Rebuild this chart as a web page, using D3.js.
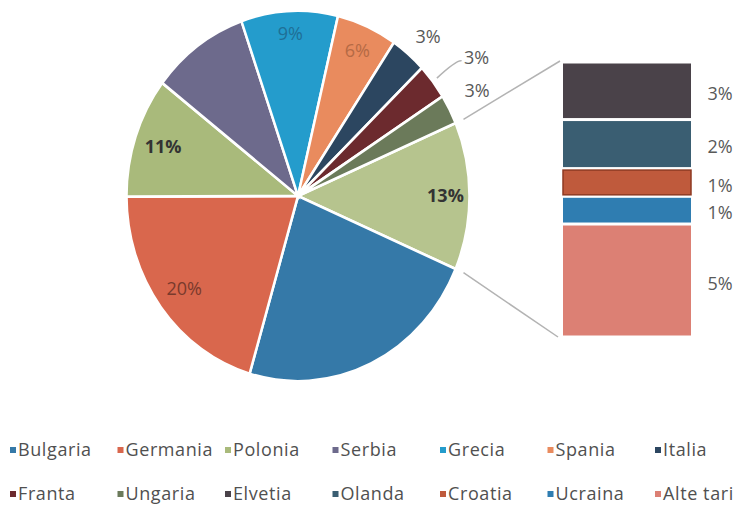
<!DOCTYPE html>
<html>
<head>
<meta charset="utf-8">
<script src="https://cdn.jsdelivr.net/npm/d3@7"></script>
<style>
  body { margin: 0; background: #fff; }
  text { font-family: "Open Sans", sans-serif; }
</style>
</head>
<body>
<div id="container"></div>
<script>
const width = 742, height = 510;

// countries that get their own pie slice (% of total)
const pieCountries = ["Bulgaria", "Germania", "Polonia", "Serbia", "Grecia", "Spania", "Italia", "Franta", "Ungaria"];
const pieValues = [23.1, 20.4, 10.5, 9.2, 9.1, 5.7, 3.4, 3.1, 2.6];
// countries grouped into the "other" slice and split in the bar
const barCountries = ["Elvetia", "Olanda", "Croatia", "Ucraina", "Alte tari"];
const barValues = [2.7, 2.3, 1.3, 1.3, 5.3];
// legend rows
const legendRow1 = ["Bulgaria", "Germania", "Polonia", "Serbia", "Grecia", "Spania", "Italia"];
const legendRow2 = ["Franta", "Ungaria", "Elvetia", "Olanda", "Croatia", "Ucraina", "Alte tari"];

const colors = {
    Bulgaria: "#3579a8", Germania: "#d9674d", Polonia: "#a9ba7b", Serbia: "#6d6a8c",
    Grecia: "#249ccc", Spania: "#e98b5e", Italia: "#2c4660", Franta: "#6c2a2e",
    Ungaria: "#6b7a5a", Other: "#b6c48e", Elvetia: "#4a4249", Olanda: "#3a5e72",
    Croatia: "#bf5a3c", Ucraina: "#2f7db1", "Alte tari": "#dc8074"
}

// label look for each slice (no label for Bulgaria / Serbia)
const labelStyle = {
    Grecia: { k: 0.88, fill: "#1f6f96" },
    Spania: { k: 0.86, fill: "#b56a45" },
    Polonia: { k: 0.83, fill: "#333", bold: true },
    Germania: { k: 0.83, fill: "#7a3a2c" },
    Other: { k: 0.86, fill: "#333", bold: true },
    Italia: { out: [14, -11], fill: "#595959" },
    Franta: { out: [37, -18], fill: "#595959", leader: true },
    Ungaria: { out: [20, -14], fill: "#595959" }
}

const cx = 298, cy = 196, r = 171.5, sy = 1.08

const svg = d3.select("#container")
    .append("svg")
    .attr("width", width)
    .attr("height", height)

/* PIE */
const otherTotal = d3.sum(barValues)
const pieData = [{ name: "Other", value: otherTotal }]
    .concat(pieCountries.map((c, i) => ({ name: c, value: pieValues[i] })))
const total = d3.sum(pieData, d => d.value)
const otherAngle = otherTotal / total * 2 * Math.PI
const start = Math.PI / 2 - otherAngle / 2

const pie = d3.pie().sort(null).value(d => d.value)
    .startAngle(start).endAngle(start + 2 * Math.PI)
const arcs = pie(pieData)
const arc = d3.arc().innerRadius(0).outerRadius(r)

const pt = (a, rr) => [cx + rr * Math.sin(a), cy - rr * Math.cos(a) * sy]

svg.append("g")
    .attr("transform", `translate(${cx},${cy}) scale(1,${sy})`)
    .selectAll("path")
    .data(arcs)
    .join("path")
    .attr("d", arc)
    .attr("fill", d => colors[d.data.name])
    .attr("stroke", "#fff")
    .attr("stroke-width", 2.5)

// slice labels
arcs.forEach(d => {
    const s = labelStyle[d.data.name]
    if (!s) return
    const mid = (d.startAngle + d.endAngle) / 2
    let x, y
    if (s.out) {
        const p = pt(mid, r * 1.05)
        x = p[0] + s.out[0]; y = p[1] + s.out[1]
        if (s.leader) {
            const e = pt(mid, r * 1.03)
            svg.append("path")
                .attr("d", `M${e[0]},${e[1]} Q${x - 20},${y + 2} ${x - 15},${y + 3}`)
                .attr("fill", "none")
                .attr("stroke", "#b3b3b3")
                .attr("stroke-width", 1.5)
        }
    } else {
        [x, y] = pt(mid, r * s.k)
    }
    svg.append("text")
        .attr("x", x).attr("y", y).attr("dy", "0.35em")
        .attr("text-anchor", "middle")
        .attr("font-size", 18)
        .attr("font-weight", s.bold ? "bold" : "normal")
        .attr("fill", s.fill)
        .text(Math.round(d.data.value / total * 100) + "%")
})

/* BAR */
const barX = 563, barW = 128
const yScale = d3.scaleLinear().domain([0, otherTotal]).range([62, 337])
const cum = d3.cumsum([0].concat(barValues))

svg.selectAll("rect.bar")
    .data(barCountries)
    .join("rect")
    .attr("class", "bar")
    .attr("x", barX)
    .attr("width", barW)
    .attr("y", (d, i) => yScale(cum[i]) + 1.5)
    .attr("height", (d, i) => yScale(cum[i + 1]) - yScale(cum[i]) - 3)
    .attr("fill", d => colors[d])
    .attr("stroke", d => d == "Croatia" ? "#8e3a22" : "none")
    .attr("stroke-width", 1.5)

svg.selectAll("text.barlabel")
    .data(barCountries)
    .join("text")
    .attr("class", "barlabel")
    .attr("x", 720)
    .attr("y", (d, i) => (yScale(cum[i]) + yScale(cum[i + 1])) / 2 + 3)
    .attr("dy", "0.35em")
    .attr("text-anchor", "middle")
    .attr("font-size", 18)
    .attr("fill", "#595959")
    .text((d, i) => Math.round(barValues[i] / total * 100) + "%")

// connector lines from the other slice to the bar
const pTop = pt(start, r * 1.05), pBot = pt(start + otherAngle, r * 1.05)
svg.append("line")
    .attr("x1", pTop[0]).attr("y1", pTop[1])
    .attr("x2", barX - 3).attr("y2", yScale(0) - 1)
    .attr("stroke", "#b3b3b3").attr("stroke-width", 1.5)
svg.append("line")
    .attr("x1", pBot[0]).attr("y1", pBot[1])
    .attr("x2", barX - 5).attr("y2", yScale(otherTotal))
    .attr("stroke", "#b3b3b3").attr("stroke-width", 1.5)

/* LEGEND */
const colX = d3.scaleLinear().domain([0, 6]).range([10, 655])
const rows = [legendRow1, legendRow2]
const rowY = [450, 494]
rows.forEach((row, ri) => {
    const g = svg.append("g")
    g.selectAll("rect")
        .data(row)
        .join("rect")
        .attr("x", (d, i) => colX(i))
        .attr("y", rowY[ri] - 3)
        .attr("width", 6).attr("height", 6)
        .attr("fill", d => colors[d])
    g.selectAll("text")
        .data(row)
        .join("text")
        .attr("x", (d, i) => colX(i) + 8)
        .attr("y", rowY[ri])
        .attr("dy", "0.35em")
        .attr("font-size", 18)
        .attr("letter-spacing", 0.6)
        .attr("fill", "#505050")
        .text(d => d)
})
</script>
</body>
</html>
